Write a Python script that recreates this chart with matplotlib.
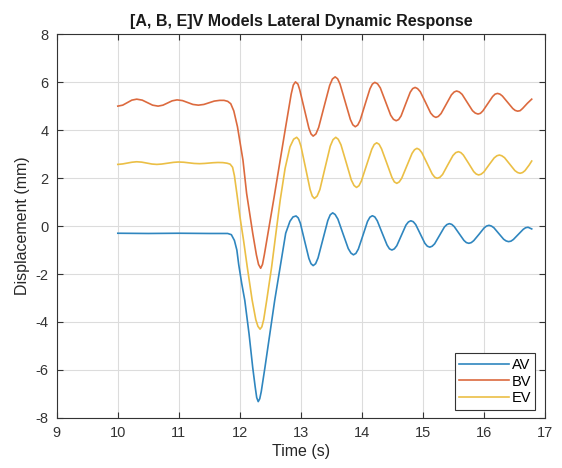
import matplotlib
matplotlib.use("Agg")
import matplotlib.pyplot as plt

plt.rcParams['font.family'] = ['Liberation Sans', 'DejaVu Sans']
plt.rcParams['axes.unicode_minus'] = False

# AV model
t_av = [10.0, 10.5, 11.0, 11.5, 11.80, 11.86, 11.91, 11.95, 11.98, 12.03, 12.08, 12.15, 12.21,
        12.25, 12.275, 12.30, 12.325, 12.35, 12.41, 12.49, 12.57, 12.66, 12.75, 12.82, 12.87, 12.92,
        12.955, 12.99, 13.06, 13.13, 13.165, 13.20, 13.24, 13.28, 13.36, 13.44, 13.48, 13.52,
        13.56, 13.605, 13.69, 13.775, 13.82, 13.86, 13.90, 13.94, 14.015, 14.09, 14.13, 14.17,
        14.21, 14.25, 14.33, 14.41, 14.45, 14.49, 14.53, 14.57, 14.645, 14.72, 14.76, 14.80,
        14.84, 14.88, 14.955, 15.03, 15.07, 15.11, 15.15, 15.19, 15.27, 15.35, 15.39, 15.43,
        15.47, 15.51, 15.59, 15.67, 15.71, 15.75, 15.79, 15.83, 15.915, 16.0, 16.04, 16.08,
        16.12, 16.16, 16.24, 16.32, 16.36, 16.40, 16.44, 16.48, 16.56, 16.64, 16.68, 16.72, 16.78]
av = [-0.30, -0.31, -0.30, -0.31, -0.31, -0.36, -0.6, -1.0, -1.6, -2.4, -3.1, -4.5, -5.9,
      -6.7, -7.15, -7.32, -7.2, -6.9, -5.9, -4.5, -3.1, -1.7, -0.3, 0.2, 0.38, 0.42,
      0.34, 0.12, -0.62, -1.35, -1.57, -1.65, -1.57, -1.33, -0.55, 0.23, 0.47, 0.55,
      0.48, 0.29, -0.33, -0.94, -1.13, -1.20, -1.14, -0.96, -0.39, 0.19, 0.37, 0.43,
      0.38, 0.22, -0.29, -0.79, -0.95, -1.00, -0.95, -0.82, -0.39, 0.04, 0.17, 0.22,
      0.18, 0.06, -0.33, -0.72, -0.84, -0.88, -0.84, -0.74, -0.39, -0.04, 0.06, 0.10,
      0.07, -0.02, -0.31, -0.60, -0.69, -0.72, -0.69, -0.61, -0.35, -0.08, 0.00, 0.03,
      0.00, -0.07, -0.31, -0.55, -0.62, -0.65, -0.63, -0.56, -0.35, -0.14, -0.07, -0.05, -0.12]

# BV model
t_bv = [10.0, 10.08, 10.155, 10.23, 10.31, 10.40, 10.485, 10.57, 10.66, 10.74, 10.815, 10.89,
        10.97, 11.06, 11.145, 11.23, 11.32, 11.41, 11.495, 11.58, 11.67, 11.74, 11.80, 11.85,
        11.90, 11.96, 12.05, 12.11, 12.21, 12.27, 12.305, 12.34, 12.37, 12.40, 12.46,
        12.56, 12.66, 12.75, 12.84, 12.875, 12.91,
        12.95, 12.98, 13.055, 13.13, 13.165, 13.20, 13.245, 13.29, 13.38, 13.47, 13.515, 13.56,
        13.60, 13.64, 13.725, 13.81, 13.85, 13.89, 13.93, 13.97, 14.05, 14.13, 14.17, 14.21,
        14.255, 14.30, 14.385, 14.47, 14.515, 14.56, 14.60, 14.64, 14.715, 14.79, 14.83, 14.87,
        14.91, 14.955, 15.04, 15.125, 15.17, 15.21, 15.25, 15.295, 15.38, 15.465, 15.51, 15.55,
        15.595, 15.64, 15.725, 15.81, 15.855, 15.90, 15.94, 15.98, 16.06, 16.14, 16.18, 16.22,
        16.26, 16.30, 16.385, 16.47, 16.51, 16.55, 16.59, 16.63, 16.71, 16.78]
bv = [5.00, 5.04, 5.145, 5.25, 5.29, 5.25, 5.145, 5.04, 5.00, 5.04, 5.13, 5.22,
      5.26, 5.23, 5.15, 5.07, 5.04, 5.07, 5.14, 5.21, 5.24, 5.24, 5.20, 5.10,
      4.8, 4.14, 2.75, 1.36, -0.3, -1.2, -1.6, -1.76, -1.6, -1.2, -0.3,
      1.2, 2.75, 4.14, 5.5, 5.88, 6.01,
      5.92, 5.68, 4.88, 4.08, 3.84, 3.75, 3.84, 4.11, 4.99, 5.86, 6.13, 6.22,
      6.14, 5.92, 5.18, 4.44, 4.22, 4.14, 4.21, 4.41, 5.07, 5.72, 5.92, 5.99,
      5.93, 5.76, 5.19, 4.62, 4.45, 4.39, 4.44, 4.59, 5.09, 5.58, 5.73, 5.78,
      5.73, 5.60, 5.16, 4.71, 4.58, 4.53, 4.57, 4.69, 5.08, 5.47, 5.59, 5.63,
      5.59, 5.49, 5.15, 4.81, 4.71, 4.67, 4.70, 4.80, 5.10, 5.40, 5.50, 5.53,
      5.50, 5.42, 5.16, 4.90, 4.82, 4.79, 4.81, 4.90, 5.12, 5.29]

# EV model
t_ev = [10.0, 10.08, 10.155, 10.23, 10.31, 10.39, 10.475, 10.56, 10.64, 10.72, 10.815, 10.91,
        10.99, 11.08, 11.165, 11.25, 11.34, 11.42, 11.49, 11.56, 11.64, 11.72, 11.79, 11.84,
        11.88, 11.91, 11.95, 12.0, 12.06, 12.12, 12.20, 12.26, 12.295, 12.33, 12.36,
        12.39, 12.44, 12.52, 12.59, 12.66, 12.74, 12.82, 12.88, 12.93,
        12.965, 13.00, 13.075, 13.15, 13.185, 13.22, 13.265, 13.31, 13.395, 13.48, 13.525, 13.57,
        13.61, 13.655, 13.74, 13.825, 13.87, 13.91, 13.95, 13.99, 14.075, 14.16, 14.20, 14.24,
        14.28, 14.32, 14.405, 14.49, 14.53, 14.57, 14.61, 14.65, 14.735, 14.82, 14.86, 14.90,
        14.94, 14.98, 15.065, 15.15, 15.19, 15.23, 15.275, 15.32, 15.405, 15.49, 15.535, 15.58,
        15.62, 15.66, 15.745, 15.83, 15.87, 15.91, 15.95, 15.995, 16.08, 16.165, 16.21, 16.25,
        16.29, 16.335, 16.42, 16.505, 16.55, 16.59, 16.63, 16.67, 16.74, 16.78]
ev = [2.57, 2.59, 2.625, 2.66, 2.68, 2.665, 2.625, 2.585, 2.57, 2.585, 2.62, 2.655,
      2.67, 2.66, 2.635, 2.61, 2.60, 2.61, 2.625, 2.64, 2.65, 2.645, 2.62, 2.58,
      2.45, 2.1, 1.36, 0.4, -0.6, -1.7, -3.08, -3.9, -4.18, -4.30, -4.2,
      -3.9, -3.08, -1.7, -0.3, 1.08, 2.4, 3.3, 3.62, 3.70,
      3.60, 3.33, 2.43, 1.52, 1.25, 1.15, 1.25, 1.52, 2.43, 3.33, 3.60, 3.70,
      3.62, 3.39, 2.66, 1.92, 1.69, 1.61, 1.68, 1.88, 2.54, 3.20, 3.40, 3.47,
      3.41, 3.22, 2.63, 2.03, 1.84, 1.78, 1.84, 1.99, 2.51, 3.03, 3.18, 3.24,
      3.19, 3.06, 2.62, 2.17, 2.04, 1.99, 2.03, 2.15, 2.55, 2.94, 3.06, 3.10,
      3.06, 2.96, 2.62, 2.27, 2.17, 2.13, 2.16, 2.25, 2.55, 2.84, 2.93, 2.96,
      2.93, 2.85, 2.58, 2.31, 2.23, 2.20, 2.23, 2.31, 2.55, 2.71]

fig = plt.figure(figsize=(5.62, 4.68), dpi=100)
ax = fig.add_axes([0.101, 0.107, 0.869, 0.820])

ax.plot(t_av, av, color='#2f86bf', lw=1.2, label='AV')
ax.plot(t_bv, bv, color='#dc6a3e', lw=1.2, label='BV')
ax.plot(t_ev, ev, color='#ebbf45', lw=1.2, label='EV')

ax.set_xlim(9, 17)
ax.set_ylim(-8, 8)
ax.set_xticks(range(9, 18))
ax.set_yticks(range(-8, 9, 2))
ax.grid(True, color='#dcdcdc', lw=0.8)
ax.set_axisbelow(True)
ax.tick_params(direction='in', top=True, right=True, length=4, width=0.8,
               colors='#333333', labelsize=10.5, pad=6)
for s in ax.spines.values():
    s.set_color('#333333')
    s.set_linewidth(0.8)

ax.set_xlabel('Time (s)', fontsize=11.5, color='#262626', labelpad=3)
ax.set_ylabel('Displacement (mm)', fontsize=11.5, color='#262626', labelpad=4)
ax.set_title('[A, B, E]V Models Lateral Dynamic Response', fontsize=11.5,
             fontweight='bold', color='#1a1a1a', pad=6)

leg = ax.legend(loc='lower right', bbox_to_anchor=(0.98, 0.021), borderaxespad=0,
                fontsize=10.5, handlelength=3.4, handletextpad=0.2, labelspacing=0.2,
                borderpad=0.3, fancybox=False, framealpha=1, edgecolor='#333333')
leg.get_frame().set_linewidth(0.8)

fig.savefig('out.png', dpi=100)
